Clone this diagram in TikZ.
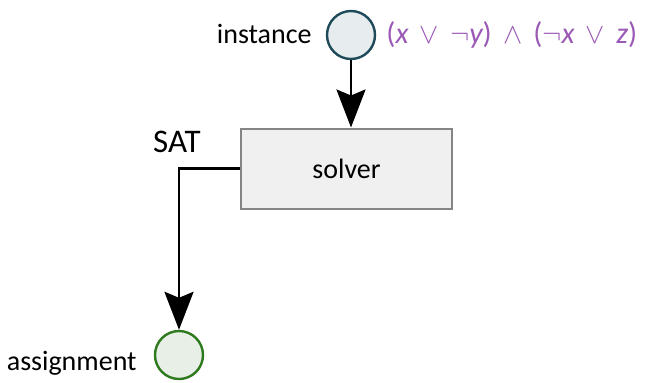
\documentclass[tikz,border=0pt]{standalone}
\usepackage{fontspec}
\setmainfont{Carlito}
\usetikzlibrary{arrows.meta}

\definecolor{instline}{HTML}{1E4A5A}
\definecolor{instfill}{HTML}{E7EDEE}
\definecolor{asgline}{HTML}{2E7A1E}
\definecolor{asgfill}{HTML}{E8EFE7}
\definecolor{boxline}{HTML}{858585}
\definecolor{boxfill}{HTML}{F0F0F0}
\definecolor{formula}{HTML}{9B59B6}

\newcommand{\tv}[1]{\textit{#1}}
\newcommand{\pa}[1]{\textup{#1}}

\begin{document}
\begin{tikzpicture}[x=0.5pt, y=0.5pt,
    font=\fontsize{14}{17}\selectfont,
    io/.style={circle, line width=1.2pt, minimum size=24pt, inner sep=0pt},
    flow/.style={line width=1.3pt, -{Stealth[length=19pt, width=14.5pt, inset=3pt]}}]
    \useasboundingbox (0,0) rectangle (647,382);

    % ein- und ausgabe
    \node[io, draw=instline, fill=instfill] (inst) at (351,347) {};
    \node[io, draw=asgline, fill=asgfill] (asg) at (179,27) {};
    \node[anchor=base east, inner sep=0pt] (instlbl) at (312,339) {instance};
    \node[anchor=base east, inner sep=0pt] (asglbl) at (137,12) {assignment};
    \node[anchor=base west, inner sep=0pt, text=formula,
          font=\fontsize{15}{18}\selectfont] (cnf) at (386,339)
        {\medmuskip=7mu $\pa{(}\tv{x} \vee \neg\tv{y}\pa{)} \wedge \pa{(}\neg\tv{x} \vee \tv{z}\pa{)}$};

    % der solver
    \node[draw=boxline, fill=boxfill, line width=1pt, minimum width=105.5pt,
          minimum height=40pt] (solver) at (346.5,213.5) {solver};
    \coordinate (bend) at (179,213.5);
    \node[anchor=base, inner sep=0pt, font=\fontsize{16.5}{19}\selectfont] (sat) at (177,230) {SAT};

    % pfeile
    \draw[flow] (inst) -- (inst |- solver.north);
    \draw[flow] (solver.west) -- (bend) -- (asg);
\end{tikzpicture}
\end{document}
